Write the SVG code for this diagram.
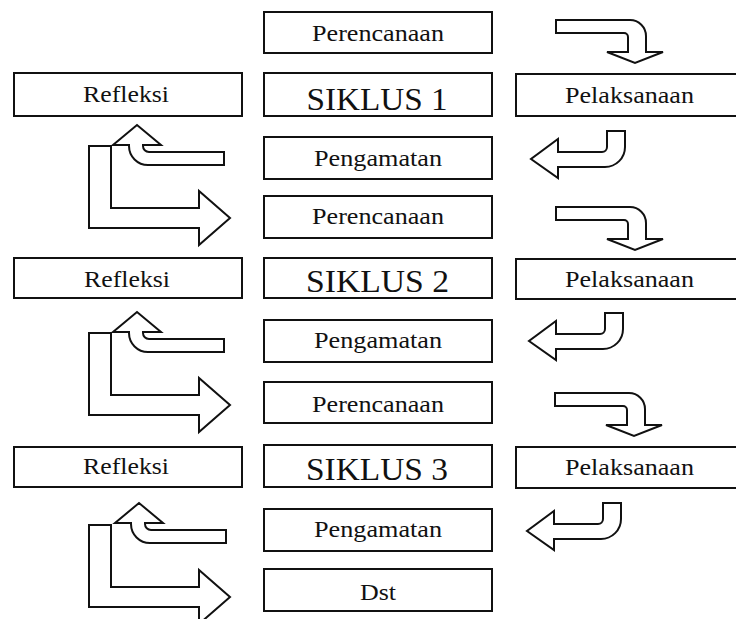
<svg xmlns="http://www.w3.org/2000/svg" xmlns:xlink="http://www.w3.org/1999/xlink" width="736" height="619" viewBox="0 0 736 619">
<style>
.box{fill:#fff;stroke:#111;stroke-width:2}
.arr{fill:#fff;stroke:#111;stroke-width:2;stroke-linejoin:miter}
.lbl{font-family:"Liberation Serif","Times New Roman",serif;font-size:23px;fill:#111;text-anchor:middle}
.big{font-family:"Liberation Serif","Times New Roman",serif;font-size:32px;fill:#111;text-anchor:middle}
</style>
<defs>
<path id="upArrow" class="arr" d="M224,152 L149,152 A6,6 0 0 1 143,146 L143,145 L161,145 L137,125 L113,145 L129,145 L129,146 A19,19 0 0 0 148,165 L224,165 Z"/>
<path id="lArrow" class="arr" d="M89,146 L111,146 L111,208 L199,208 L199,191 L230,218 L199,245 L199,228 L89,228 Z"/>
<path id="downArrow" class="arr" d="M556,20 L630,20 A16,16 0 0 1 646,36 L646,52 L663,52 L635,63 L607,52 L628,52 L628,37 A4,4 0 0 0 624,33 L556,33 Z"/>
<path id="leftArrow" class="arr" d="M607,131 L625,131 L625,147 A20,20 0 0 1 605,167 L558,167 L558,178 L531,159 L558,139 L558,152 L602,152 A5,5 0 0 0 607,147 Z"/>
</defs>
<rect width="736" height="619" fill="#fff"/>
<g id="connectors">
<use xlink:href="#downArrow"/>
<use xlink:href="#leftArrow"/>
<use xlink:href="#upArrow"/>
<use xlink:href="#lArrow"/>
<use xlink:href="#downArrow" transform="translate(0,187)"/>
<use xlink:href="#leftArrow" transform="translate(-2,182)"/>
<use xlink:href="#upArrow" transform="translate(0,187)"/>
<use xlink:href="#lArrow" transform="translate(0,187)"/>
<use xlink:href="#downArrow" transform="translate(-1,373)"/>
<use xlink:href="#leftArrow" transform="translate(-4,372)"/>
<use xlink:href="#upArrow" transform="translate(2,378)"/>
<use xlink:href="#lArrow" transform="translate(0,379)"/>
</g>
<g id="perencanaan1"><rect class="box" x="264" y="12" width="228" height="41"/><text class="lbl" x="378" y="41" textLength="132" lengthAdjust="spacingAndGlyphs">Perencanaan</text></g>
<g id="siklus1"><rect class="box" x="264" y="73" width="228" height="43"/><text class="big" x="377" y="110" textLength="141" lengthAdjust="spacingAndGlyphs">SIKLUS 1</text></g>
<g id="refleksi1"><rect class="box" x="14" y="73" width="228" height="43"/><text class="lbl" x="126" y="102" textLength="86" lengthAdjust="spacingAndGlyphs">Refleksi</text></g>
<g id="pelaksanaan1"><rect class="box" x="516" y="74" width="226" height="42"/><text class="lbl" x="629.5" y="103" textLength="129" lengthAdjust="spacingAndGlyphs">Pelaksanaan</text></g>
<g id="pengamatan1"><rect class="box" x="264" y="137" width="228" height="42"/><text class="lbl" x="378" y="166" textLength="128" lengthAdjust="spacingAndGlyphs">Pengamatan</text></g>
<g id="perencanaan2"><rect class="box" x="264" y="196" width="228" height="42"/><text class="lbl" x="378" y="224" textLength="132" lengthAdjust="spacingAndGlyphs">Perencanaan</text></g>
<g id="siklus2"><rect class="box" x="264" y="258" width="228" height="40"/><text class="big" x="377.5" y="292" textLength="143" lengthAdjust="spacingAndGlyphs">SIKLUS 2</text></g>
<g id="refleksi2"><rect class="box" x="14" y="258" width="228" height="40"/><text class="lbl" x="127" y="287" textLength="86" lengthAdjust="spacingAndGlyphs">Refleksi</text></g>
<g id="pelaksanaan2"><rect class="box" x="516" y="259" width="226" height="40"/><text class="lbl" x="629.5" y="287" textLength="129" lengthAdjust="spacingAndGlyphs">Pelaksanaan</text></g>
<g id="pengamatan2"><rect class="box" x="264" y="320" width="228" height="42"/><text class="lbl" x="378" y="348" textLength="128" lengthAdjust="spacingAndGlyphs">Pengamatan</text></g>
<g id="perencanaan3"><rect class="box" x="264" y="382" width="228" height="41"/><text class="lbl" x="378" y="412" textLength="132" lengthAdjust="spacingAndGlyphs">Perencanaan</text></g>
<g id="siklus3"><rect class="box" x="264" y="445" width="228" height="42"/><text class="big" x="377" y="480" textLength="142" lengthAdjust="spacingAndGlyphs">SIKLUS 3</text></g>
<g id="refleksi3"><rect class="box" x="14" y="447" width="228" height="40"/><text class="lbl" x="126" y="474" textLength="86" lengthAdjust="spacingAndGlyphs">Refleksi</text></g>
<g id="pelaksanaan3"><rect class="box" x="516" y="447" width="226" height="41"/><text class="lbl" x="629.5" y="475" textLength="129" lengthAdjust="spacingAndGlyphs">Pelaksanaan</text></g>
<g id="pengamatan3"><rect class="box" x="264" y="509" width="228" height="42"/><text class="lbl" x="378" y="537" textLength="128" lengthAdjust="spacingAndGlyphs">Pengamatan</text></g>
<g id="dst"><rect class="box" x="264" y="569" width="228" height="42"/><text class="lbl" x="378" y="600" textLength="36" lengthAdjust="spacingAndGlyphs">Dst</text></g>
</svg>
